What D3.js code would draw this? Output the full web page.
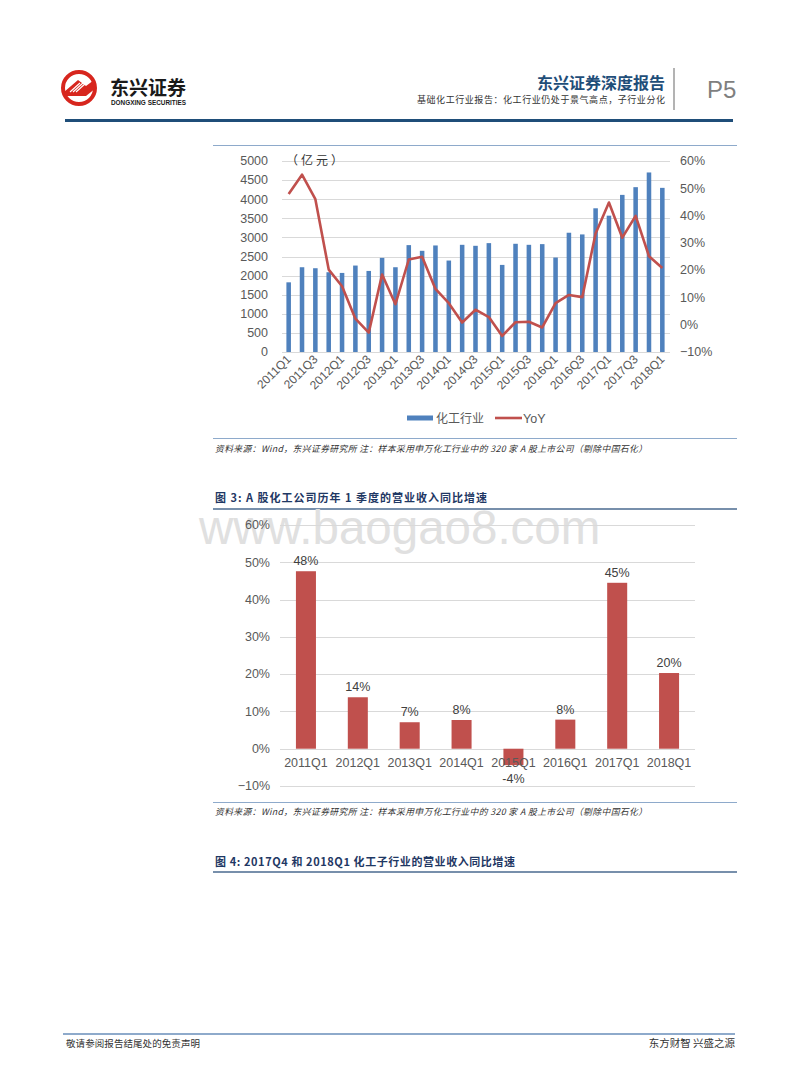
<!DOCTYPE html>
<html><head><meta charset="utf-8">
<script src="https://cdn.jsdelivr.net/npm/d3@7"></script>
<style>
body{margin:0;background:#fff;}
svg{display:block;}
text{font-family:"Liberation Sans","Noto Sans CJK SC",Arial,sans-serif;}
.cjk{font-family:"Noto Sans CJK SC",sans-serif;}
</style></head>
<body>
<svg id="page" width="800" height="1086"></svg>
<script>
// ---------- Data ----------
const quarters = ["2011Q1","2011Q2","2011Q3","2011Q4","2012Q1","2012Q2","2012Q3","2012Q4",
  "2013Q1","2013Q2","2013Q3","2013Q4","2014Q1","2014Q2","2014Q3","2014Q4",
  "2015Q1","2015Q2","2015Q3","2015Q4","2016Q1","2016Q2","2016Q3","2016Q4",
  "2017Q1","2017Q2","2017Q3","2017Q4","2018Q1"];
const revenue = [1824,2219,2193,2088,2070,2263,2122,2464,2219,2798,2649,2789,2394,2806,2780,2850,
  2280,2833,2806,2824,2473,3122,3078,3762,3569,4113,4315,4700,4297];
const yoy = [0.479,0.550,0.460,0.202,0.141,0.022,-0.029,0.184,0.075,0.239,0.249,0.131,0.079,0.008,0.055,0.028,
  -0.041,0.009,0.011,-0.010,0.079,0.109,0.101,0.334,0.448,0.319,0.399,0.251,0.208];
const leftTicks = [0,500,1000,1500,2000,2500,3000,3500,4000,4500,5000];
const rightTicks = [-0.1,0,0.1,0.2,0.3,0.4,0.5,0.6];
const q1Cats = ["2011Q1","2012Q1","2013Q1","2014Q1","2015Q1","2016Q1","2017Q1","2018Q1"];
const q1Growth = [0.476,0.138,0.071,0.077,-0.044,0.078,0.445,0.203];
const q1Labels = ["48%","14%","7%","8%","-4%","8%","45%","20%"];
const pctTicks = [-0.1,0,0.1,0.2,0.3,0.4,0.5,0.6];

const svg = d3.select("#page");
const BLUE = "#4F81BD", RED = "#C0504D", GRID = "#D9D9D9", AX = "#595959", NAVY = "#1F4E79";

// ---------- Header ----------
const logo = svg.append("g");
logo.append("circle").attr("cx",79).attr("cy",88).attr("r",16).attr("fill","none").attr("stroke","#D7261E").attr("stroke-width",4);
logo.append("path").attr("d","M64,92 L78,80 L86,86 L94,80 L96,88 L86,96 L64,96 Z").attr("fill","#D7261E");
[0,1,2].forEach(i=>logo.append("line").attr("x1",70+i*3).attr("y1",92).attr("x2",80+i*3).attr("y2",83)
  .attr("stroke","#fff").attr("stroke-width",1.2));
logo.append("text").attr("class","cjk").attr("x",110).attr("y",95).attr("font-size",19).attr("font-weight",700)
  .attr("fill","#1a1a1a").text("东兴证券");
logo.append("text").attr("x",111).attr("y",104.5).attr("font-size",6.4).attr("font-weight",700)
  .attr("fill","#1a1a1a").attr("textLength",75).text("DONGXING SECURITIES");

svg.append("text").attr("class","cjk").attr("x",665).attr("y",89).attr("text-anchor","end")
  .attr("font-size",16).attr("font-weight",700).attr("fill",NAVY).text("东兴证券深度报告");
svg.append("text").attr("class","cjk").attr("x",417).attr("y",103)
  .attr("font-size",9).attr("fill","#333").attr("textLength",248).attr("lengthAdjust","spacing")
  .text("基础化工行业报告：化工行业仍处于景气高点，子行业分化");
svg.append("line").attr("x1",674).attr("x2",674).attr("y1",68).attr("y2",110).attr("stroke","#808080").attr("stroke-width",1.2);
svg.append("text").attr("x",707).attr("y",98).attr("font-size",24).attr("fill","#7f7f7f").text("P5");
svg.append("rect").attr("x",65).attr("y",119).attr("width",668).attr("height",3).attr("fill",NAVY);

// ---------- Chart 1 ----------
svg.append("line").attr("x1",213).attr("x2",737).attr("y1",145.5).attr("y2",145.5).attr("stroke","#8EAACB").attr("stroke-width",1.2);
const x1 = d3.scaleBand().domain(quarters).range([282,669]).paddingInner(0.66).paddingOuter(0.33);
const yL = d3.scaleLinear().domain([0,5000]).range([352,161]);
const yR = d3.scaleLinear().domain([-0.1,0.6]).range([352,161]);
const c1 = svg.append("g");
c1.selectAll("line.grid").data(leftTicks).join("line").attr("class","grid")
  .attr("x1",282).attr("x2",670).attr("y1",d=>Math.round(yL(d))+0.5).attr("y2",d=>Math.round(yL(d))+0.5)
  .attr("stroke",GRID).attr("stroke-width",1);
c1.selectAll("text.yl").data(leftTicks).join("text").attr("class","yl")
  .attr("x",268).attr("y",d=>yL(d)+4.3).attr("text-anchor","end").attr("font-size",12.5).attr("fill",AX).text(d=>d);
c1.selectAll("text.yr").data(rightTicks).join("text").attr("class","yr")
  .attr("x",680).attr("y",d=>yR(d)+4.3).attr("font-size",12.5).attr("fill",AX).text(d=>d3.format(".0%")(d));
c1.append("text").attr("class","cjk").attr("x",286).attr("y",165).attr("font-size",12).attr("fill","#333")
  .attr("letter-spacing",3).text("（亿元）");
c1.selectAll("rect.bar").data(revenue).join("rect").attr("class","bar")
  .attr("x",(d,i)=>x1(quarters[i])).attr("width",x1.bandwidth())
  .attr("y",d=>yL(d)).attr("height",d=>yL(0)-yL(d)).attr("fill",BLUE);
const line = d3.line().x((d,i)=>x1(quarters[i])+x1.bandwidth()/2).y(d=>yR(d));
c1.append("path").datum(yoy).attr("d",line).attr("fill","none").attr("stroke",RED).attr("stroke-width",2.6)
  .attr("stroke-linejoin","round");
c1.selectAll("text.xl").data(quarters.filter((q,i)=>i%2===0)).join("text").attr("class","xl")
  .attr("transform",d=>`translate(${x1(d)+x1.bandwidth()/2+3},${360}) rotate(-45)`)
  .attr("text-anchor","end").attr("font-size",12).attr("fill",AX).text(d=>d);
// legend
c1.append("rect").attr("x",407).attr("y",415.5).attr("width",26).attr("height",5).attr("fill",BLUE);
c1.append("text").attr("class","cjk").attr("x",436).attr("y",422.5).attr("font-size",12).attr("fill",AX).text("化工行业");
c1.append("line").attr("x1",495).attr("x2",522).attr("y1",418).attr("y2",418).attr("stroke",RED).attr("stroke-width",2.6);
c1.append("text").attr("x",523).attr("y",422.5).attr("font-size",12.5).attr("fill",AX).text("YoY");
svg.append("line").attr("x1",213).attr("x2",737).attr("y1",438.5).attr("y2",438.5).attr("stroke","#8EAACB").attr("stroke-width",1.2);
const srcText = "资料来源：Wind，东兴证券研究所 注：样本采用申万化工行业中的 320 家 A 股上市公司（剔除中国石化）";
svg.append("text").attr("class","cjk").attr("x",215).attr("y",452).attr("font-size",8.8).attr("font-style","italic")
  .attr("fill","#333").attr("textLength",432).attr("lengthAdjust","spacing").text(srcText);

// ---------- Chart 2 ----------
svg.append("text").attr("class","cjk").attr("x",215).attr("y",502).attr("font-size",11).attr("font-weight",700)
  .attr("fill","#1F3864").attr("textLength",272).attr("lengthAdjust","spacing")
  .text("图 3:  A 股化工公司历年 1 季度的营业收入同比增速");
svg.append("line").attr("x1",213).attr("x2",737).attr("y1",509).attr("y2",509).attr("stroke","#4A6A8F").attr("stroke-width",1.4);
svg.append("text").attr("x",199).attr("y",544).attr("font-size",47.5).attr("fill","#E0E0E0").text("www.baogao8.com");

const x2 = d3.scaleBand().domain(q1Cats).range([280,695]).paddingInner(0.614).paddingOuter(0.307);
const y2 = d3.scaleLinear().domain([-0.1,0.6]).range([786,525]);
const c2 = svg.append("g");
c2.selectAll("line.grid").data(pctTicks).join("line").attr("class","grid")
  .attr("x1",280).attr("x2",695).attr("y1",d=>Math.round(y2(d))+0.5).attr("y2",d=>Math.round(y2(d))+0.5)
  .attr("stroke",GRID).attr("stroke-width",1);
c2.selectAll("text.yl").data(pctTicks).join("text").attr("class","yl")
  .attr("x",270).attr("y",d=>y2(d)+4.3).attr("text-anchor","end").attr("font-size",12.5).attr("fill",AX)
  .text(d=>d3.format(".0%")(d));
c2.selectAll("rect.bar").data(q1Growth).join("rect").attr("class","bar")
  .attr("x",(d,i)=>x2(q1Cats[i])).attr("width",x2.bandwidth())
  .attr("y",d=>y2(Math.max(0,d))).attr("height",d=>Math.abs(y2(d)-y2(0))).attr("fill",RED);
c2.selectAll("text.xl").data(q1Cats).join("text").attr("class","xl")
  .attr("x",d=>x2(d)+x2.bandwidth()/2).attr("y",767).attr("text-anchor","middle").attr("font-size",12.5)
  .attr("fill",AX).text(d=>d);
c2.selectAll("text.vl").data(q1Growth).join("text").attr("class","vl")
  .attr("x",(d,i)=>x2(q1Cats[i])+x2.bandwidth()/2)
  .attr("y",d=>d>=0 ? y2(d)-6 : y2(d)+18).attr("text-anchor","middle").attr("font-size",12.5)
  .attr("fill","#404040").text((d,i)=>q1Labels[i]);
svg.append("line").attr("x1",213).attr("x2",737).attr("y1",802.5).attr("y2",802.5).attr("stroke","#8EAACB").attr("stroke-width",1.2);
svg.append("text").attr("class","cjk").attr("x",215).attr("y",815).attr("font-size",8.8).attr("font-style","italic")
  .attr("fill","#333").attr("textLength",432).attr("lengthAdjust","spacing").text(srcText);

// ---------- Figure 4 title ----------
svg.append("text").attr("class","cjk").attr("x",215).attr("y",866).attr("font-size",11).attr("font-weight",700)
  .attr("fill","#1F3864").attr("textLength",300).attr("lengthAdjust","spacing")
  .text("图 4: 2017Q4 和 2018Q1 化工子行业的营业收入同比增速");
svg.append("line").attr("x1",213).attr("x2",737).attr("y1",872).attr("y2",872).attr("stroke","#4A6A8F").attr("stroke-width",1.4);

// ---------- Footer ----------
svg.append("line").attr("x1",63).attr("x2",735).attr("y1",1034).attr("y2",1034).attr("stroke","#8EAACB").attr("stroke-width",2);
svg.append("text").attr("class","cjk").attr("x",66).attr("y",1047).attr("font-size",9.5).attr("fill","#333")
  .attr("textLength",134).attr("lengthAdjust","spacing").text("敬请参阅报告结尾处的免责声明");
svg.append("text").attr("class","cjk").attr("x",735).attr("y",1047).attr("text-anchor","end").attr("font-size",10.5).attr("fill","#333")
  .text("东方财智 兴盛之源");
</script>
</body></html>
